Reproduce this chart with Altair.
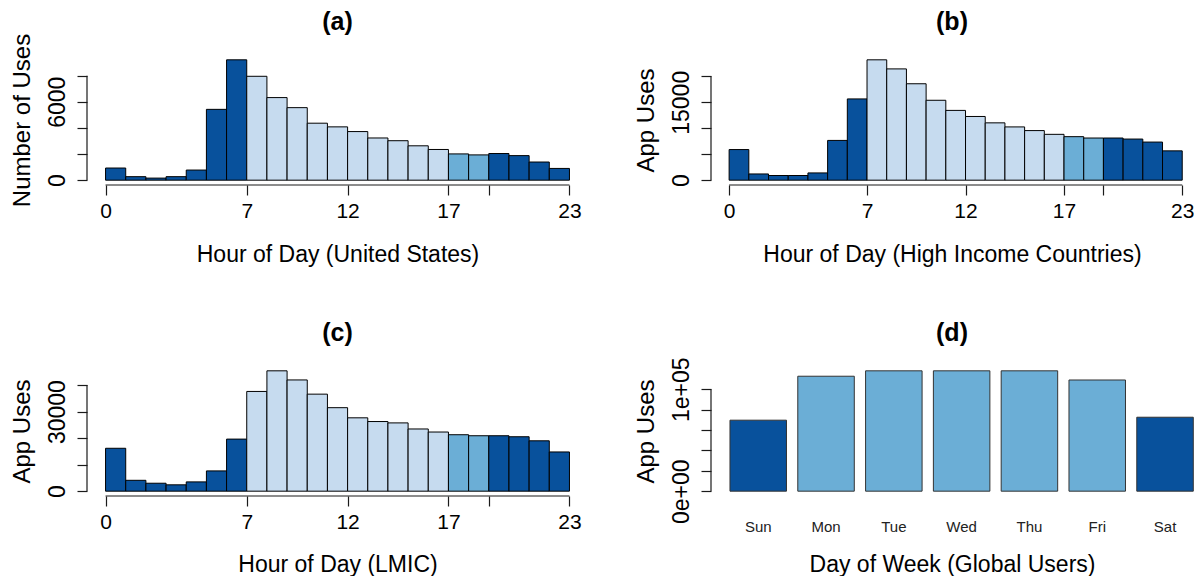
import altair as alt
import pandas as pd

FONT = "Liberation Sans"
AXC = "#1a1a1a"

# ---------------- data ----------------
hour_edges = list(range(24))  # histogram bin edges 0..23 (23 bins)
us_uses = [930, 270, 160, 270, 775, 5420, 9210, 7950, 6320, 5550, 4360, 4080,
           3720, 3230, 3020, 2630, 2350, 2010, 1935, 2040, 1880, 1390, 900]
hic_uses = [5900, 1200, 900, 900, 1400, 7660, 15650, 23180, 21430, 18570, 15390,
            13440, 12270, 11040, 10260, 9550, 8830, 8380, 8120, 8120, 7920, 7340, 5650]
lmic_uses = [16170, 4100, 3000, 2400, 3500, 7640, 19620, 37580, 45350, 41910, 36560,
             31460, 27640, 26240, 25730, 23440, 22290, 21270, 20890, 20890, 20510, 18980, 14780]
hour_period = ["night"] * 7 + ["day"] * 10 + ["evening"] * 2 + ["night"] * 4

days = ["Sun", "Mon", "Tue", "Wed", "Thu", "Fri", "Sat"]
day_uses = [69600, 112700, 118000, 118000, 118000, 109000, 72500]
day_period = ["weekend", "weekday", "weekday", "weekday", "weekday", "weekday", "weekend"]

period_names = ["night", "day", "evening", "weekday", "weekend"]
period_colors = ["#08519C", "#C6DBEF", "#6BAED6", "#6BAED6", "#08519C"]

hour_ticks = [0, 7, 12, 17, 19, 23]
hour_tick_labels = ["0", "7", "12", "17", "", "23"]

us_yticks = [0, 2000, 4000, 6000, 8000]
us_ylabels = ["0", "", "", "6000", ""]
hic_yticks = [0, 5000, 10000, 15000, 20000]
hic_ylabels = ["0", "", "", "15000", ""]
lmic_yticks = [0, 10000, 20000, 30000, 40000]
lmic_ylabels = ["0", "", "", "30000", ""]
day_yticks = [0, 20000, 40000, 60000, 80000, 100000]
day_ylabels = ["0e+00", "", "", "", "", "1e+05"]

# ---------------- layout helpers ----------------
H = 130
W_LEFT = 501
W_RIGHT = 482
UNIT_LEFT = 20.17   # px per hour, left column
UNIT_RIGHT = 19.7   # px per hour, right column
UNIT_DAY = 56.5     # px per bar width, day panel


def label_expr(values, labels):
    parts = " : ".join(f"datum.value == {v} ? '{l}'" for v, l in zip(values, labels))
    return parts + " : ''"


color_scale = alt.Scale(domain=period_names, range=period_colors)


def y_axis(ticks, labels, title):
    return alt.Axis(values=ticks, labelExpr=label_expr(ticks, labels), domain=False, grid=False,
                    tickSize=10, tickColor=AXC, tickWidth=1.2, labelFont=FONT, labelFontSize=23,
                    labelColor="black", labelAngle=270, labelAlign="center",
                    labelBaseline="alphabetic", labelPadding=13, labelFlush=False,
                    labelOverlap=False, title=title, titleFont=FONT, titleFontSize=24,
                    titleFontWeight="normal", titleColor="black", titleAngle=270,
                    titleX=-77, titleY=H / 2, titleAlign="center", titleBaseline="top")


def title_layer(text, width):
    return alt.Chart(pd.DataFrame({"t": [text]})).mark_text(
        font=FONT, fontSize=25, fontWeight="bold", color="black", baseline="top",
        align="center").encode(x=alt.value(width / 2), y=alt.value(-45), text="t:N")


def hist_panel(uses, yticks, ylabels, ytitle, xtitle, title, width, unit, title_y):
    n = len(uses)
    df = pd.DataFrame({"start": hour_edges[:-1], "end": hour_edges[1:], "uses": uses,
                       "period": hour_period, "zero": [0] * n})
    top = max(uses)
    xmin = -0.04 * 23
    xmax = xmin + width / unit
    xs = alt.Scale(domain=[xmin, xmax], nice=False, zero=False)
    ys = alt.Scale(domain=[-0.04 * top, 1.04 * top], nice=False, zero=False)
    xaxis = alt.Axis(values=hour_ticks, labelExpr=label_expr(hour_ticks, hour_tick_labels),
                     domain=False, grid=False, tickSize=10, tickColor=AXC, tickWidth=1.2,
                     labelFont=FONT, labelFontSize=21, labelColor="black", labelPadding=5,
                     labelAngle=0, labelFlush=False, labelOverlap=False, title=xtitle,
                     titleFont=FONT, titleFontSize=23, titleFontWeight="normal",
                     titleColor="black", titleY=title_y, titleBaseline="middle", titleAlign="center")
    yaxis = y_axis(yticks, ylabels, ytitle)
    bars = alt.Chart(df).mark_rect(stroke="black", strokeWidth=1).encode(
        x=alt.X("start:Q", scale=xs, axis=xaxis),
        x2="end",
        y=alt.Y("uses:Q", scale=ys, axis=yaxis),
        y2="zero",
        color=alt.Color("period:N", scale=color_scale, legend=None),
    )
    xline = alt.Chart(pd.DataFrame({"start": [hour_ticks[0]], "end": [hour_ticks[-1]]})).mark_rule(
        color=AXC, strokeWidth=1.2).encode(
        x=alt.X("start:Q", scale=xs, axis=xaxis), x2="end", y=alt.value(H))
    yline = alt.Chart(pd.DataFrame({"uses": [yticks[0]], "zero": [yticks[-1]]})).mark_rule(
        color=AXC, strokeWidth=1.2).encode(
        x=alt.value(0), y=alt.Y("uses:Q", scale=ys, axis=yaxis), y2="zero")
    return alt.layer(bars, xline, yline, title_layer(title, width)).properties(width=width, height=H)


def day_panel(width, title_y):
    n = len(days)
    df = pd.DataFrame({"day": days, "uses": day_uses, "period": day_period,
                       "left": [0.2 + 1.2 * i for i in range(n)],
                       "right": [1.2 + 1.2 * i for i in range(n)],
                       "mid": [0.7 + 1.2 * i for i in range(n)],
                       "zero": [0] * n})
    span = 1.2 * n
    xmin = 0.2 - 0.04 * span
    xmax = xmin + width / UNIT_DAY
    top = max(day_uses)
    xs = alt.Scale(domain=[xmin, xmax], nice=False, zero=False)
    ys = alt.Scale(domain=[-0.04 * top, 1.04 * top], nice=False, zero=False)
    xaxis = alt.Axis(labels=False, ticks=False, domain=False, grid=False,
                     title="Day of Week (Global Users)", titleFont=FONT, titleFontSize=23,
                     titleFontWeight="normal", titleColor="black", titleY=title_y,
                     titleBaseline="middle", titleAlign="center")
    yaxis = y_axis(day_yticks, day_ylabels, "App Uses")
    bars = alt.Chart(df).mark_rect(stroke="#333333", strokeWidth=1).encode(
        x=alt.X("left:Q", scale=xs, axis=xaxis),
        x2="right",
        y=alt.Y("uses:Q", scale=ys, axis=yaxis),
        y2="zero",
        color=alt.Color("period:N", scale=color_scale, legend=None),
    )
    names = alt.Chart(df).mark_text(font=FONT, fontSize=15, color="#222222",
                                    baseline="middle").encode(
        x=alt.X("mid:Q", scale=xs, axis=xaxis), y=alt.value(H + 31), text="day:N")
    yline = alt.Chart(pd.DataFrame({"uses": [day_yticks[0]], "zero": [day_yticks[-1]]})).mark_rule(
        color=AXC, strokeWidth=1.2).encode(
        x=alt.value(0), y=alt.Y("uses:Q", scale=ys, axis=yaxis), y2="zero")
    return alt.layer(bars, names, yline, title_layer("(d)", width)).properties(width=width, height=H)


pa = hist_panel(us_uses, us_yticks, us_ylabels, "Number of Uses", "Hour of Day (United States)",
                "(a)", W_LEFT, UNIT_LEFT, 69)
pb = hist_panel(hic_uses, hic_yticks, hic_ylabels, "App Uses", "Hour of Day (High Income Countries)",
                "(b)", W_RIGHT, UNIT_RIGHT, 69)
pc = hist_panel(lmic_uses, lmic_yticks, lmic_ylabels, "App Uses", "Hour of Day (LMIC)",
                "(c)", W_LEFT, UNIT_LEFT, 68)
pd_ = day_panel(W_RIGHT, 68)

chart = alt.concat(pa, pb, pc, pd_, columns=2, spacing=alt.RowColnumber(row=181, column=123),
                   bounds="flush").properties(
    padding={"left": 2, "top": 2, "right": 0, "bottom": 0}, background="white"
).configure_view(strokeWidth=0)

chart.save("out.html", embed_options={"renderer": "svg", "actions": False})
